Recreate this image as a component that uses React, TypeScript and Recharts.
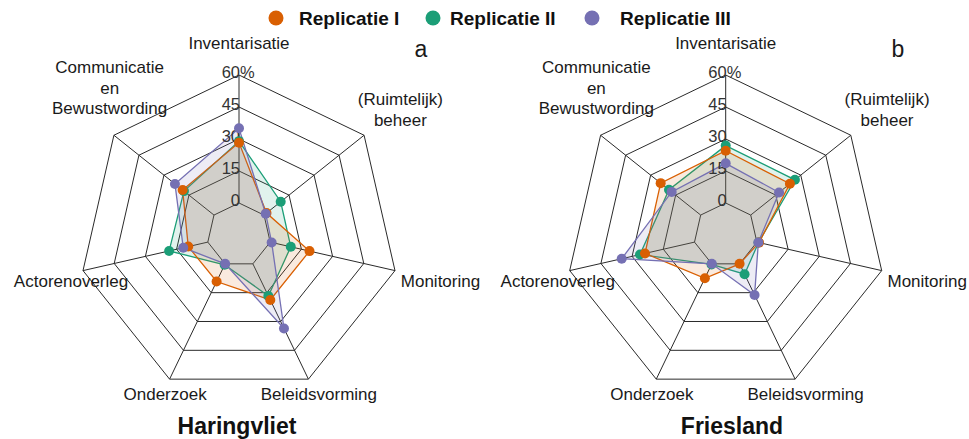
import React from "react";
import {
  RadarChart,
  Radar,
  PolarGrid,
  PolarAngleAxis,
  PolarRadiusAxis,
} from "recharts";

// ---- data (percent of answers per theme) ----
const categories = [
  "Inventarisatie",
  "(Ruimtelijk) beheer",
  "Monitoring",
  "Beleidsvorming",
  "Onderzoek",
  "Actorenoverleg",
  "Communicatie en Bewustwording",
];

const haringvlietI = [28.3, 1.5, 18.9, 18.8, 9.2, 9.4, 18.8];
const haringvlietII = [29, 10, 9.9, 16.7, 0.5, 18.6, 18];
const haringvlietIII = [35, 1, 0.7, 33.6, 0, 11.8, 23.4];

const frieslandI = [24.5, 23.5, 1, 0, 7.5, 23.8, 24];
const frieslandII = [26.9, 26.5, 0.8, 5.4, 0.3, 26.2, 19];
const frieslandIII = [18.6, 17, 0.7, 16.2, 0, 35, 17.4];

const radiusTicks = [0, 15, 30, 45, 60];

const seriesNames = ["Replicatie I", "Replicatie II", "Replicatie III"];

// ---- styling ----
const COLORS = ["#D95F02", "#1B9E77", "#7570B3"];
const FONT = "'Liberation Sans', Arial, Helvetica, sans-serif";
const TEXT = "#1a1a1a";

// label placement relative to the recharts tick point (outer radius + 8)
const LABEL_LAYOUT: Record<string, { lines: string[]; anchor: string; dx: number; dy: number }> = {
  Inventarisatie: { lines: ["Inventarisatie"], anchor: "middle", dx: 0, dy: -18 },
  "(Ruimtelijk) beheer": { lines: ["(Ruimtelijk)", "beheer"], anchor: "middle", dx: 30, dy: -25 },
  Monitoring: { lines: ["Monitoring"], anchor: "start", dx: -2, dy: 15 },
  Beleidsvorming: { lines: ["Beleidsvorming"], anchor: "middle", dx: 7, dy: 14 },
  Onderzoek: { lines: ["Onderzoek"], anchor: "middle", dx: -1, dy: 14 },
  Actorenoverleg: { lines: ["Actorenoverleg"], anchor: "end", dx: 53, dy: 15 },
  "Communicatie en Bewustwording": {
    lines: ["Communicatie", "en", "Bewustwording"],
    anchor: "middle",
    dx: 2,
    dy: -57,
  },
};

function buildRows(a: number[], b: number[], c: number[]) {
  return categories.map((cat, i) => ({ cat, r1: a[i], r2: b[i], r3: c[i] }));
}

const haringvlietRows = buildRows(haringvlietI, haringvlietII, haringvlietIII);
const frieslandRows = buildRows(frieslandI, frieslandII, frieslandIII);

function AngleTick(props: any) {
  const { x, y, payload } = props;
  const layout = LABEL_LAYOUT[payload.value];
  if (!layout) return null;
  return (
    <text
      x={x + layout.dx}
      y={y + layout.dy}
      textAnchor={layout.anchor as any}
      fontFamily={FONT}
      fontSize={17}
      fill={TEXT}
    >
      {layout.lines.map((line, i) => (
        <tspan key={line} x={x + layout.dx} dy={i === 0 ? 0 : 20.5}>
          {line}
        </tspan>
      ))}
    </text>
  );
}

function RadiusTick(props: any) {
  const { x, y, payload } = props;
  const isTop = payload.value === 60;
  return (
    <g>
      <text x={x + 1} y={y + 3} textAnchor="end" fontFamily={FONT} fontSize={16.5} fill="#333">
        {payload.value}
      </text>
      {isTop && (
        <text x={x + 1} y={y + 3} textAnchor="start" fontFamily={FONT} fontSize={16.5} fill="#333">
          %
        </text>
      )}
    </g>
  );
}

// draw order: II below I below III
const DRAW_ORDER = [1, 0, 2];

function Panel({ rows, cx }: { rows: any[]; cx: number }) {
  return (
    <RadarChart
      width={485}
      height={439}
      data={rows}
      cx={cx}
      cy={235}
      innerRadius={32}
      outerRadius={160}
      margin={{ top: 0, right: 0, bottom: 0, left: 0 }}
    >
      <PolarGrid gridType="polygon" stroke="#2a2a2a" strokeWidth={1} />
      <PolarAngleAxis dataKey="cat" tick={<AngleTick />} tickLine={false} axisLine={false} />
      <PolarRadiusAxis
        angle={90}
        domain={[0, 60]}
        ticks={radiusTicks}
        tick={<RadiusTick />}
        axisLine={false}
        tickLine={false}
      />
      {DRAW_ORDER.map((i) => (
        <Radar
          key={i}
          name={seriesNames[i]}
          dataKey={`r${i + 1}`}
          stroke={COLORS[i]}
          strokeWidth={1.3}
          fill={COLORS[i]}
          fillOpacity={0.13}
          dot={{ r: 5, fill: COLORS[i], fillOpacity: 1, stroke: "none" }}
          isAnimationActive={false}
        />
      ))}
    </RadarChart>
  );
}

const LEGEND_POS = [
  { dot: 276, text: 299 },
  { dot: 433, text: 450 },
  { dot: 592, text: 620 },
];

export default function App() {
  return (
    <div
      style={{
        position: "absolute",
        left: 0,
        top: 0,
        width: 969,
        height: 439,
        background: "#fff",
        fontFamily: FONT,
      }}
    >
      <div style={{ position: "absolute", left: 0, top: 0 }}>
        <Panel rows={haringvlietRows} cx={239} />
      </div>
      <div style={{ position: "absolute", left: 485, top: 0 }}>
        <Panel rows={frieslandRows} cx={240.7} />
      </div>
      <svg
        width={969}
        height={439}
        style={{ position: "absolute", left: 0, top: 0, pointerEvents: "none" }}
      >
        {seriesNames.map((name, i) => (
          <g key={name}>
            <circle cx={LEGEND_POS[i].dot} cy={18} r={7.5} fill={COLORS[i]} />
            <text
              x={LEGEND_POS[i].text}
              y={25}
              fontFamily={FONT}
              fontWeight="bold"
              fontSize={19}
              fill="#111"
            >
              {name}
            </text>
          </g>
        ))}
        <text x={421} y={57} textAnchor="middle" fontFamily={FONT} fontSize={23} fill={TEXT}>
          a
        </text>
        <text x={898} y={57} textAnchor="middle" fontFamily={FONT} fontSize={23} fill={TEXT}>
          b
        </text>
        <text x={237} y={434} textAnchor="middle" fontFamily={FONT} fontWeight="bold" fontSize={23} fill="#111">
          Haringvliet
        </text>
        <text x={732} y={434} textAnchor="middle" fontFamily={FONT} fontWeight="bold" fontSize={23} fill="#111">
          Friesland
        </text>
      </svg>
    </div>
  );
}
